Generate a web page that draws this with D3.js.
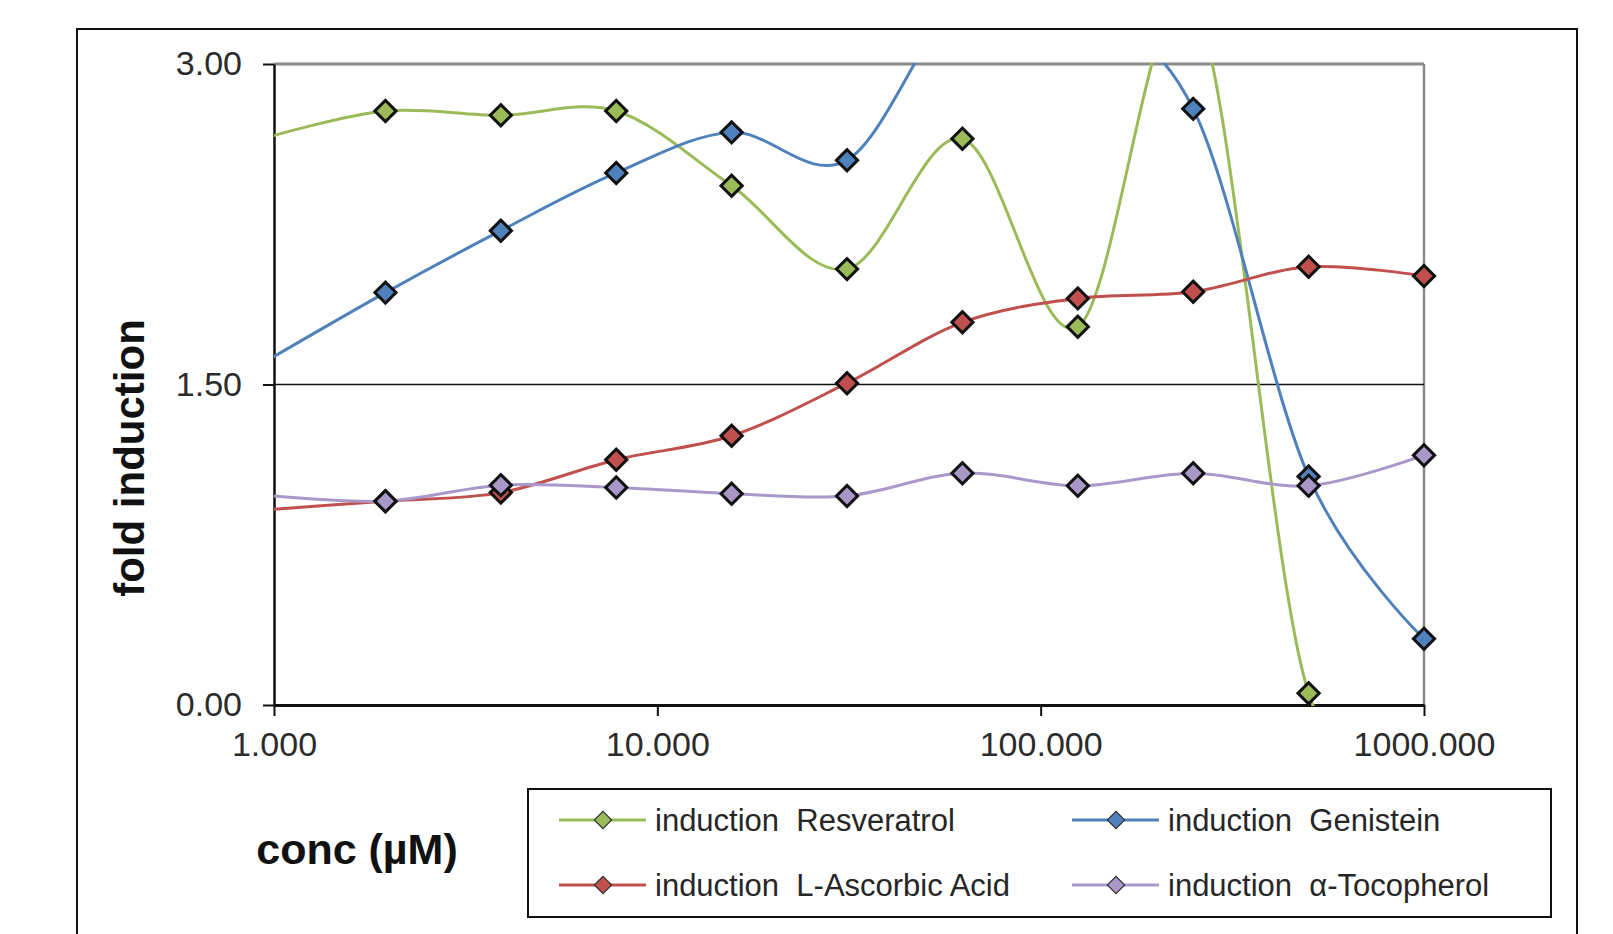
<!DOCTYPE html>
<html>
<head>
<meta charset="utf-8">
<script src="https://cdn.jsdelivr.net/npm/d3@7"></script>
<style>
	body { margin: 0; background: #fff; }
	text { font-family: "Liberation Sans", Arial, sans-serif; }
</style>
</head>
<body>
<svg id="chart"></svg>
<script>
// concentrations (µM), two-fold dilutions from 1000 down
var conc = [0.9765625, 1.953125, 3.90625, 7.8125, 15.625, 31.25, 62.5, 125, 250, 500, 1000]

var resveratrol = [2.66, 2.78, 2.76, 2.78, 2.43, 2.04, 2.65, 1.77, 3.30, 0.055, -0.02]
var genistein   = [1.62, 1.93, 2.22, 2.49, 2.68, 2.55, 3.30, 3.25, 2.79, 1.07, 0.31]
var ascorbic    = [0.915, 0.954, 0.994, 1.148, 1.26, 1.506, 1.791, 1.903, 1.934, 2.051, 2.008]
var tocopherol  = [0.98, 0.954, 1.029, 1.018, 0.989, 0.978, 1.085, 1.026, 1.085, 1.026, 1.169]

var seriesNames = ['induction  Resveratrol', 'induction  Genistein', 'induction  L-Ascorbic Acid', 'induction  \u03b1-Tocopherol']
var seriesColors = ['#9bbb59', '#4f81bd', '#c0504d', '#a999cb']
var markerColors = ['#9bbb59', '#4f81bd', '#c0504d', '#a898c8']

var xTicks = [1, 10, 100, 1000]
var yTicks = [0, 1.5, 3]

buildChart()

function buildChart() {
	var dim = {
		width: 1150,
		height: 641,
		margin: { top: 64, left: 274 }
	}

	var svg = d3.select('#chart')
		.attr('width', 1613)
		.attr('height', 934)

	// outer chart frame
	svg.append('rect')
		.attr('x', 77).attr('y', 29)
		.attr('width', 1500).attr('height', 930)
		.attr('fill', 'none')
		.attr('stroke', '#111')
		.attr('stroke-width', 2)

	var g = svg.append('g')
		.attr('transform', 'translate(' + dim.margin.left + ',' + dim.margin.top + ')')

	var x = d3.scaleLog()
		.domain([1, 1000])
		.range([0, dim.width])

	var y = d3.scaleLinear()
		.domain([0, 3])
		.range([dim.height, 0])

	// plot area border (top / right, grey)
	g.append('line')
		.attr('x1', 0).attr('x2', dim.width)
		.attr('y1', y(3)).attr('y2', y(3))
		.attr('stroke', '#8a8a8a').attr('stroke-width', 3)
	g.append('line')
		.attr('x1', dim.width).attr('x2', dim.width)
		.attr('y1', 0).attr('y2', dim.height)
		.attr('stroke', '#8a8a8a').attr('stroke-width', 2.5)

	// gridline at 1.50
	g.append('line')
		.attr('x1', 0).attr('x2', dim.width)
		.attr('y1', y(1.5)).attr('y2', y(1.5))
		.attr('stroke', '#111').attr('stroke-width', 1.5)

	var yAxis = g.append('g')
		.call(d3.axisLeft(y).tickValues(yTicks).tickFormat(d3.format('.2f'))
			.tickSize(11).tickSizeOuter(0).tickPadding(21))
	yAxis.select('.domain').attr('stroke', '#111').attr('stroke-width', 2.5)
	yAxis.selectAll('.tick line').attr('stroke', '#111').attr('stroke-width', 2)
	yAxis.selectAll('.tick text')
		.attr('font-size', 34)
		.attr('fill', '#2b2b2b')
		.style('font-family', '"Liberation Sans", Arial, sans-serif')

	var xAxis = g.append('g')
		.attr('transform', 'translate(0,' + dim.height + ')')
		.call(d3.axisBottom(x).tickValues(xTicks).tickFormat(d3.format('.3f'))
			.tickSize(11).tickSizeOuter(0).tickPadding(16))
	xAxis.select('.domain').attr('stroke', '#111').attr('stroke-width', 3)
	xAxis.selectAll('.tick line').attr('stroke', '#111').attr('stroke-width', 2)
	xAxis.selectAll('.tick text')
		.attr('font-size', 34)
		.attr('fill', '#2b2b2b')
		.style('font-family', '"Liberation Sans", Arial, sans-serif')

	// axis titles
	svg.append('text')
		.attr('transform', 'translate(129,458) rotate(-90)')
		.attr('text-anchor', 'middle')
		.attr('dominant-baseline', 'central')
		.attr('font-size', 42)
		.attr('font-weight', 'bold')
		.attr('fill', '#111')
		.text('fold induction')

	svg.append('text')
		.attr('x', 357).attr('y', 849)
		.attr('text-anchor', 'middle')
		.attr('dominant-baseline', 'central')
		.attr('font-size', 43)
		.attr('font-weight', 'bold')
		.attr('fill', '#111')
		.text('conc (\u00b5M)')

	// data
	var allSeries = [resveratrol, genistein, ascorbic, tocopherol].map((vals, i) => ({
		name: seriesNames[i],
		color: seriesColors[i],
		marker: markerColors[i],
		points: conc.map((c, j) => ({ c: c, v: vals[j] }))
	}))

	svg.append('defs').append('clipPath')
		.attr('id', 'plotClip')
		.append('rect')
		.attr('x', 0).attr('y', -1)
		.attr('width', dim.width).attr('height', dim.height + 2)

	var line = d3.line()
		.x(d => x(d.c))
		.y(d => y(d.v))
		.curve(d3.curveCatmullRom.alpha(0))

	var lines = g.append('g').attr('clip-path', 'url(#plotClip)')
	lines.selectAll('path')
		.data(allSeries)
		.enter()
		.append('path')
			.attr('d', d => line(d.points))
			.attr('fill', 'none')
			.attr('stroke', d => d.color)
			.attr('stroke-width', 3)

	var diamond = d3.symbol().type(d3.symbolSquare).size(225)

	allSeries.forEach(s => {
		g.append('g').selectAll('path')
			.data(s.points.filter(p => p.c >= 1 && p.c <= 1000 && p.v >= 0 && p.v <= 3))
			.enter()
			.append('path')
				.attr('d', diamond)
				.attr('transform', p => 'translate(' + x(p.c) + ',' + y(p.v) + ') rotate(45)')
				.attr('fill', s.marker)
				.attr('stroke', '#111')
				.attr('stroke-width', 3)
	})

	// legend
	var legend = svg.append('g')
	legend.append('rect')
		.attr('x', 528).attr('y', 789)
		.attr('width', 1023).attr('height', 128)
		.attr('fill', '#fff')
		.attr('stroke', '#111')
		.attr('stroke-width', 2)

	var legendPos = [
		{ x: 559, y: 820 },
		{ x: 1072, y: 820 },
		{ x: 559, y: 885 },
		{ x: 1072, y: 885 }
	]
	var legendMarker = d3.symbol().type(d3.symbolSquare).size(150)

	var items = legend.selectAll('g.item')
		.data(allSeries)
		.enter()
		.append('g')
			.attr('class', 'item')
			.attr('transform', (d, i) => 'translate(' + legendPos[i].x + ',' + legendPos[i].y + ')')

	items.append('line')
		.attr('x1', 0).attr('x2', 87)
		.attr('stroke', d => d.color)
		.attr('stroke-width', 3)
	items.append('path')
		.attr('d', legendMarker)
		.attr('transform', 'translate(44,0) rotate(45)')
		.attr('fill', d => d.marker)
		.attr('stroke', '#333')
		.attr('stroke-width', 1.2)
	items.append('text')
		.attr('x', 96)
		.attr('dominant-baseline', 'central')
		.attr('font-size', 31)
		.attr('fill', '#262626')
		.style('white-space', 'pre')
		.text(d => d.name)
}
</script>
</body>
</html>
